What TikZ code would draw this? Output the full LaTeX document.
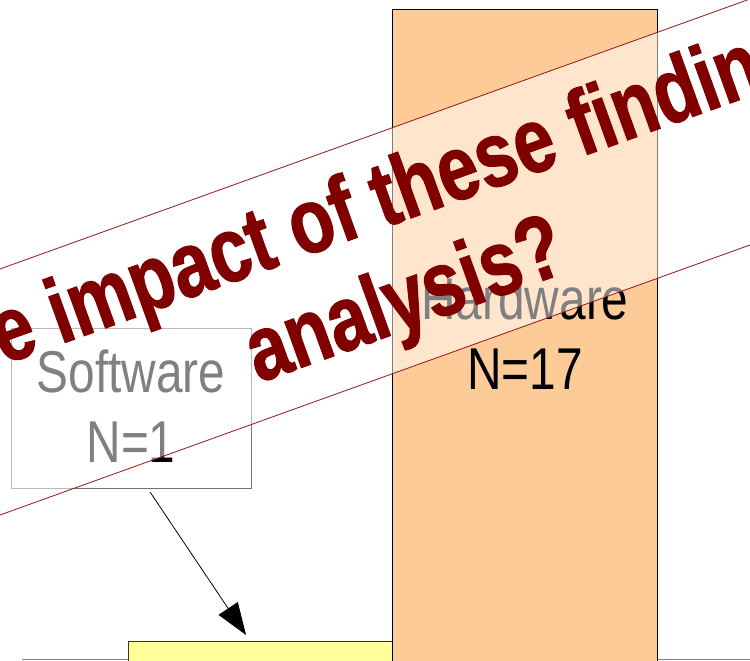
\documentclass[tikz,border=0pt]{standalone}
\usepackage{fontspec}
\usetikzlibrary{arrows.meta}
\newfontfamily\lblfont[FakeStretch=0.81]{Liberation Sans}
\newfontfamily\banfont[FakeStretch=0.79, BoldFeatures={FakeBold=1.2}]{Liberation Sans}
\definecolor{orangebar}{RGB}{253,203,152}
\definecolor{yellowbar}{RGB}{255,255,153}
\definecolor{banred}{RGB}{128,0,0}
\definecolor{bandline}{RGB}{150,20,20}
\begin{document}
\begin{tikzpicture}[x=1pt,y=1pt,
  barbox/.style={draw=black, line width=0.8pt, inner sep=0pt, outer sep=0pt, anchor=south west},
  swbox/.style={draw=black!55, line width=0.8pt, inner sep=0pt, outer sep=0pt, minimum width=240pt, minimum height=160pt},
  lbl/.style={font=\lblfont\fontsize{59}{70}\selectfont, text=black, inner sep=0pt, anchor=base},
  bantext/.style={font=\banfont\bfseries\fontsize{92}{110}\selectfont, text=banred, inner sep=0pt, rotate=19.8},
  bandedge/.style={draw=bandline, line width=0.8pt},
  axisline/.style={draw=black!50, line width=1pt},
  pointer/.style={-{Triangle[length=32pt,width=23pt]}, line width=0.8pt, draw=black}
]
\useasboundingbox (0,0) rectangle (750,661);
\clip (0,0) rectangle (750,661);
% axis
\draw[axisline] (22,1) coordinate (ax0) -- (750,1) coordinate (ax1);
% bars
\node[barbox, draw=black!80, fill=yellowbar, minimum width=264pt, minimum height=24pt] (yb) at (128,-4) {};
\node[barbox, fill=orangebar, minimum width=265pt, minimum height=656pt] (hw) at (392,-4) {};
% hardware labels
\node[lbl] (hwa) at (525,341) {Hardware};
\node[lbl] (hwb) at (525,271) {N=17};
% software box
\node[swbox] (sw) at (131,253) {};
\node[lbl] (swa) at (131,268) {Software};
\node[lbl] (swb) at (131,198) {N=1};
% arrow
\draw[pointer] ([xshift=19pt,yshift=-4pt]sw.south) -- ([xshift=-14pt,yshift=6pt]yb.north);
% banner band
\fill[white, fill opacity=0.5] (-20,384.8) -- (770,669.2) -- (770,423.2) -- (-20,138.8) -- cycle;
\draw[bandedge] (-20,384.8) coordinate (bu0) -- (770,669.2) coordinate (bu1);
\draw[bandedge] (-20,138.8) coordinate (bl0) -- (770,423.2) coordinate (bl1);
% banner text
\node[bantext, anchor=base west] (t1) at (3.3,296.1) {e impact of these findin};
\node[bantext, anchor=base] (t2) at (414.4,334) {analysis?};
\end{tikzpicture}
\end{document}
